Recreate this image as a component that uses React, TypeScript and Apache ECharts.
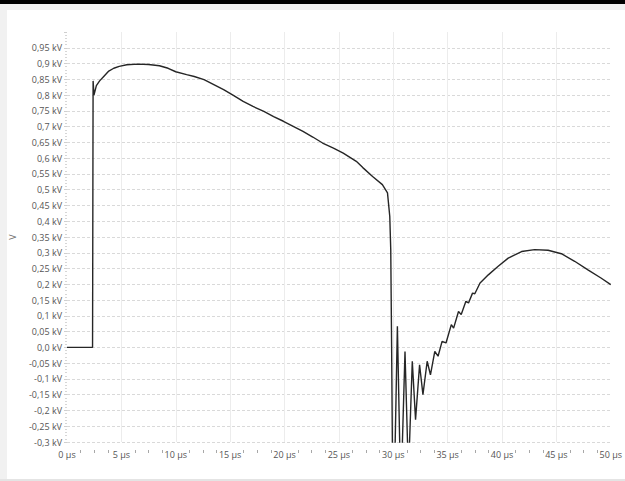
import React, { useEffect, useRef } from "react";
import * as echarts from "echarts";

const timeUs: number[] = [
  0, 0.8, 1.6, 2.35, 2.4, 2.48, 2.7, 3.0, 3.4, 3.8, 4.3, 4.8, 5.5, 6.5, 7.5, 8.5, 9.3, 10,
  11, 11.7, 12.6, 13.5, 14.4, 15.3, 16.2, 17.1, 18.1, 19, 19.9, 20.8, 21.7, 22.6, 23.5,
  24.5, 25.4, 26.6, 27.2, 28.1, 29.0, 29.47, 29.68, 29.77, 29.85, 29.93, 30.15, 30.38,
  30.62, 30.8, 31.08, 31.35, 31.45, 31.75, 32.05, 32.42, 32.73, 33.12, 33.42, 33.82,
  34.12, 34.49, 34.85, 35.34, 35.55, 36.0, 36.25, 36.68, 36.92, 37.29, 37.5, 37.98,
  38.74, 39.65, 40.57, 41.8, 43.0, 44.24, 45.46, 46.68, 47.9, 49.1, 50,
];

const voltageKv: number[] = [
  0.0, 0.0, 0.0, 0.0, 0.845, 0.8, 0.83, 0.845, 0.86, 0.875, 0.885, 0.891, 0.896, 0.898,
  0.897, 0.893, 0.885, 0.874, 0.865, 0.859, 0.849, 0.833, 0.817, 0.799, 0.78, 0.764,
  0.748, 0.732, 0.717, 0.701, 0.685, 0.667, 0.648, 0.632, 0.616, 0.59, 0.57, 0.542,
  0.516, 0.49, 0.415, 0.31, 0.0, -0.35, -0.35, 0.067, -0.35, -0.35, -0.013, -0.35,
  -0.35, -0.044, -0.229, -0.055, -0.15, -0.044, -0.087, -0.013, -0.028, 0.019, 0.014,
  0.072, 0.061, 0.114, 0.104, 0.146, 0.141, 0.172, 0.17, 0.204, 0.23, 0.257, 0.283,
  0.304, 0.31, 0.308, 0.297, 0.273, 0.246, 0.22, 0.199,
];

const yMin = -0.3;
const yMax = 1.0;
const yStep = 0.05;
const xMin = 0;
const xMax = 50;
const xStep = 5;
const yUnit = " kV";
const xUnit = " µs";
const yName = "V";

const FONT = "Open Sans";

function fmtY(v: number): string {
  const r = Math.round(v * 100) / 100;
  if (r === 0) return "0,0" + yUnit;
  return String(r).replace(".", ",") + yUnit;
}

export default function App() {
  const ref = useRef<HTMLDivElement>(null);
  useEffect(() => {
    if (!ref.current) return;
    const chart = echarts.init(ref.current, undefined, { renderer: "svg" });
    const data = timeUs.map((t, i) => [t, voltageKv[i]]);
    chart.setOption({
      animation: false,
      backgroundColor: "#ffffff",
      graphic: [
        { type: "rect", left: 0, top: 0, shape: { width: 625, height: 4 }, style: { fill: "#000" }, z: 10 },
        { type: "rect", left: 0, top: 4, shape: { width: 625, height: 6 }, style: { fill: "#f1f1f1" }, z: 10 },
        { type: "rect", left: 0, top: 4, shape: { width: 7, height: 477 }, style: { fill: "#f1f1f1" }, z: 10 },
        { type: "rect", left: 0, top: 479, shape: { width: 625, height: 2 }, style: { fill: "#e4e4e4" }, z: 10 },
      ],
      grid: { left: 62, right: 14, top: 32, bottom: 39, containLabel: false },
      xAxis: [
        {
          type: "value",
          min: xMin,
          max: xMax,
          interval: xStep,
          axisLine: { show: false },
          axisTick: { show: false },
          axisLabel: {
            margin: 8,
            fontFamily: FONT,
            fontSize: 9,
            color: "#555",
            formatter: (v: number) => `${v}${xUnit}`,
          },
          splitLine: {
            show: true,
            showMinLine: false,
            showMaxLine: false,
            lineStyle: { color: "#ececec", width: 1 },
          },
        },
        {
          type: "value",
          min: xMin,
          max: xMax,
          interval: xStep,
          position: "bottom",
          offset: 8,
          axisLine: { show: false },
          axisTick: { show: false },
          axisLabel: { show: false },
          splitLine: { show: false },
          minorTick: { show: true, splitNumber: 4, length: 3, lineStyle: { color: "#a8a8a8", width: 1 } },
        },
      ],
      yAxis: {
        type: "value",
        min: yMin,
        max: yMax,
        interval: yStep,
        name: yName,
        nameLocation: "middle",
        nameGap: 50,
        nameTextStyle: { fontFamily: FONT, fontSize: 9, color: "#666" },
        axisLine: { show: false },
        axisTick: { show: true, length: 3, lineStyle: { color: "#cfcfcf" } },
        minorTick: { show: true, splitNumber: 5, length: 2, lineStyle: { color: "#d6d6d6" } },
        axisLabel: {
          margin: 5,
          showMaxLabel: false,
          fontFamily: FONT,
          fontSize: 9,
          color: "#555",
          formatter: fmtY,
        },
        splitLine: {
          show: true,
          showMaxLine: false,
          lineStyle: { color: "#d9d9d9", type: [3, 2], width: 1 },
        },
      },
      series: [
        {
          type: "line",
          xAxisIndex: 0,
          data,
          showSymbol: false,
          clip: true,
          lineStyle: { color: "#262626", width: 1.4 },
        },
      ],
    });
    return () => chart.dispose();
  }, []);
  return (
    <div
      ref={ref}
      style={{ position: "fixed", left: 0, top: 0, width: 625, height: 481 }}
    />
  );
}
